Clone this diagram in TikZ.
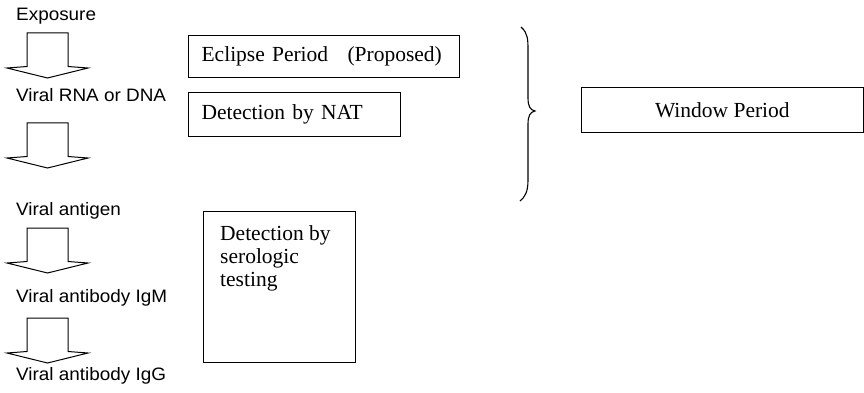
\documentclass[tikz,border=0pt]{standalone}
\usepackage{fontspec}
\setmainfont{Liberation Serif}
\newfontfamily\labelsans[FakeStretch=1.05]{Liberation Sans}
\tikzset{
  box/.style={draw, line width=1.2pt, inner xsep=13pt, inner ysep=0pt,
    align=left, font={\fontsize{21.5}{23}\selectfont}},
  stage/.style={anchor=base west, inner sep=0pt,
    font={\labelsans\fontsize{18}{20}\selectfont}},
  pics/downarrow/.style={code={
    \draw[line width=1pt, line join=miter]
      (-20.5,0) -- (20.5,0) -- (20.5,33.5) -- (40.5,35) -- (0,45)
      -- (-40.5,35) -- (-20.5,33.5) -- cycle;}}
}
\begin{document}
\begin{tikzpicture}[x=1pt, y=-1pt]
\useasboundingbox (0,0) rectangle (864,393);

% infection stages, top to bottom
\node[stage] (exposure) at (16,21)  {Exposure};
\node[stage] (nucleic)  at (16,102) {Viral RNA or DNA};
\node[stage] (antigen)  at (16,215) {Viral antigen};
\node[stage] (igm)      at (16,302) {Viral antibody IgM};
\node[stage] (igg)      at (16,380) {Viral antibody IgG};

% block arrows between the stages
\pic at (47.5,33)  {downarrow};
\pic at (47.5,123) {downarrow};
\pic at (47.5,228) {downarrow};
\pic at (47.5,318) {downarrow};

% detection boxes
\node[box, anchor=north west, text width=245pt, minimum height=42pt]
  (eclipse) at (188,35) {\mbox{Eclipse Period\hspace{0.9em}(Proposed)}};
\node[box, anchor=north west, text width=186pt, minimum height=44pt]
  (nat) at (188,92) {\mbox{Detection by NAT}};
\node[box, anchor=north west, minimum width=152pt, minimum height=151pt]
  (sero) at (203,211) {};
\node[anchor=north west, inner sep=0pt, align=left,
  font={\fontsize{21.5}{23}\selectfont}]
  (serotext) at ([xshift=17pt, yshift=-14pt]sero.north west)
  {Detection by\\serologic\\testing};

% brace grouping the early stages
\coordinate (bracetop) at (521,27);
\coordinate (bracetip) at (535,111);
\coordinate (bracebot) at (520,201);
\draw[line width=1.1pt]
  (bracetop) .. controls (528,33) and (528,40) .. (528,50) -- (528,98)
  .. controls (528,106) and (530,110) .. (bracetip)
  .. controls (530,112) and (528,116) .. (528,124) -- (528,180)
  .. controls (528,192) and (525,197) .. (bracebot);

\node[box, anchor=north west, minimum width=281.5pt, minimum height=45pt,
  align=center] (window) at (581,87) {Window Period};
\end{tikzpicture}
\end{document}
